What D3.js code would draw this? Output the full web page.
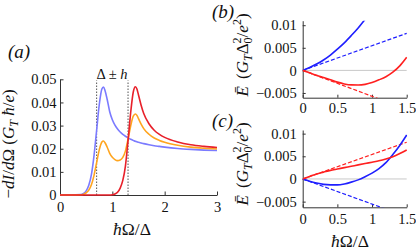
<!DOCTYPE html>
<html><head><meta charset="utf-8">
<script src="https://cdn.jsdelivr.net/npm/d3@7"></script>
<style>
body{margin:0;background:#fff}
</style></head><body>
<svg id="c" width="416" height="251"></svg>
<script>
// ---------- Panel (a) data ----------
const xA = [0,0.2,0.4,0.45,0.5,0.55,0.6,0.65,0.7,0.75,0.8,0.83,0.86,0.9,0.95,1.0,1.05,1.1,1.15,1.2,1.25,1.3,1.35,1.4,1.44,1.47,1.5,1.55,1.6,1.7,1.8,1.9,2.0,2.25,2.5,2.75,3.0];
const blueA = [0,0,0.0002,0.0007,0.0018,0.0042,0.0088,0.017,0.028,0.039,0.0458,0.0467,0.0452,0.0415,0.036,0.0325,0.0302,0.0285,0.0272,0.0262,0.0254,0.0247,0.0241,0.0236,0.0232,0.023,0.0228,0.0225,0.0222,0.0217,0.0213,0.021,0.0207,0.0201,0.0197,0.0194,0.0192];
const orangeA = [0,0,0.0001,0.00035,0.0009,0.0021,0.0044,0.0085,0.014,0.0195,0.0229,0.02335,0.0226,0.02075,0.018,0.0163,0.0153,0.01485,0.0151,0.01625,0.01895,0.0241,0.0298,0.03405,0.035,0.0344,0.033,0.03065,0.0287,0.02625,0.02465,0.0236,0.0228,0.0215,0.0207,0.0202,0.01985];
const redA = [0,0,0,0,0,0,0,0,0,0,0,0,0,0,0,0.0001,0.0004,0.0012,0.003,0.0063,0.0125,0.0235,0.0355,0.0445,0.0468,0.0458,0.0432,0.0388,0.0352,0.0308,0.028,0.0262,0.0249,0.0229,0.0217,0.021,0.0205];
const gapLines = [0.7, 1.3];
const xTicksA = [0,1,2,3];
const yTicksA = [0,0.01,0.02,0.03,0.04,0.05];

// ---------- Panel (b) data ----------
const xB = [0,0.1,0.2,0.3,0.4,0.5,0.6,0.7,0.8,0.9,1.0,1.1,1.2,1.3,1.4,1.5];
const blueB = [0,0.00063,0.0014,0.0023,0.0034,0.0047,0.0061,0.0077,0.0094,0.0113];
const redB = [0,-0.00055,-0.0011,-0.0016,-0.0021,-0.0026,-0.003,-0.00322,-0.00325,-0.0031,-0.0027,-0.0021,-0.0014,-0.0004,0.001,0.0029];
const xLin = [0,1.5];
const blueDashB = [0,0.0082];
const redDashB = [0,-0.0086];

// ---------- Panel (c) data ----------
const blueC = [0,-0.0005,-0.0009,-0.0012,-0.0013,-0.0013,-0.0011,-0.0007,-0.0002,0.0005,0.0013,0.0023,0.0036,0.0054,0.0074,0.0097];
const redC = [0,0.00055,0.0011,0.0015,0.0019,0.0022,0.0025,0.0028,0.0031,0.0034,0.0037,0.004,0.0044,0.0049,0.0056,0.0064];
const redDashC = [0,0.0081];
const blueDashC = [0,-0.0083];

const xTicksBC = [0,0.5,1,1.5];
const yTicksBC = [-0.005,0,0.005,0.01];

const FONT = '"Liberation Serif", "Times New Roman", "DejaVu Serif"';
const svg = d3.select("#c");
const fmt = v => v === 0 ? "0" : (v < 0 ? "\u2212" + String(-v) : String(v));
const axisCol = "#333";
const styleAxis = a => {
  a.select(".domain").attr("stroke",axisCol);
  a.selectAll("line").attr("stroke",axisCol);
  a.selectAll("text").attr("font-size",14.5).style("font-family",FONT).attr("fill","#111");
};
const txt = (x,y,size) => svg.append("text").attr("x",x).attr("y",y).attr("font-size",size).style("font-family",FONT).attr("fill","#111");

// ================= Panel (a) =================
const xa = d3.scaleLinear().domain([0,3]).range([60,217]);
const ya = d3.scaleLinear().domain([0,0.05]).range([195,79.3]);
const gA = svg.append("g");
gA.append("g").attr("transform","translate(0,195)")
  .call(d3.axisBottom(xa).tickValues(xTicksA).tickSize(-3.5).tickSizeOuter(0).tickFormat(fmt).tickPadding(6.5))
  .call(styleAxis);
gA.append("g").attr("transform","translate(60,0)")
  .call(d3.axisLeft(ya).tickValues(yTicksA).tickSize(-3.5).tickSizeOuter(0).tickFormat(fmt).tickPadding(3.5))
  .call(styleAxis);

gA.selectAll(".gap").data(gapLines).enter().append("line")
  .attr("x1",d=>xa(d)).attr("x2",d=>xa(d)).attr("y1",ya(0)).attr("y2",ya(0.0495))
  .attr("stroke","#555").attr("stroke-width",1).attr("stroke-dasharray","1.5,1.5");

const lineA = d3.line().x((d,i)=>xa(xA[i])).y(d=>ya(d)).curve(d3.curveMonotoneX);
[[blueA,"#7b7bff"],[orangeA,"#ffa51f"],[redA,"#e8202a"]].forEach(([s,c])=>{
  gA.append("path").attr("d",lineA(s)).attr("fill","none").attr("stroke",c).attr("stroke-width",1.6);
});

// labels (a)
txt(8,58,19).attr("font-style","italic").text("(a)");
const dl = txt(112,79,14.5).attr("text-anchor","middle");
dl.append("tspan").text("\u0394 \u00b1 ");
dl.append("tspan").attr("font-style","italic").text("h");
const xl = txt(132,235,17.5).attr("text-anchor","middle");
xl.append("tspan").attr("font-style","italic").text("\u0127");
xl.append("tspan").text("\u03a9/\u0394");
const yl = svg.append("text").attr("transform","translate(14,144) rotate(-90)").attr("text-anchor","middle")
  .attr("font-size",17).style("font-family",FONT).attr("fill","#111");
yl.append("tspan").text("\u2212");
yl.append("tspan").attr("font-style","italic").text("dI");
yl.append("tspan").text("/");
yl.append("tspan").attr("font-style","italic").text("d");
yl.append("tspan").text("\u03a9 (");
yl.append("tspan").attr("font-style","italic").text("G");
yl.append("tspan").attr("font-style","italic").attr("font-size",12).attr("dy",3.5).text("T");
yl.append("tspan").attr("font-style","italic").attr("dy",-3.5).text(" \u0127");
yl.append("tspan").text("/");
yl.append("tspan").attr("font-style","italic").text("e");
yl.append("tspan").text(")");

// ================= Panels (b), (c) =================
function smallPanel(id, top, bottom, yDom, series, letter, letterY, labelCY, padX, showXLabel){
  const x = d3.scaleLinear().domain([0,1.5]).range([302.7,406.7]);
  const y = d3.scaleLinear().domain(yDom).range([bottom, top]);
  const g = svg.append("g");
  const cid = "clip"+id;
  g.append("clipPath").attr("id",cid).append("rect").attr("x",302.7).attr("y",top).attr("width",104.5).attr("height",bottom-top);
  g.append("line").attr("x1",x(0)).attr("x2",x(1.5)).attr("y1",y(0)).attr("y2",y(0)).attr("stroke","#c8c8c8").attr("stroke-width",1);
  g.append("g").attr("transform",`translate(0,${bottom})`)
    .call(d3.axisBottom(x).tickValues(xTicksBC).tickSize(-3).tickSizeOuter(0).tickFormat(fmt).tickPadding(padX))
    .call(styleAxis);
  g.append("g").attr("transform","translate(302.7,0)")
    .call(d3.axisLeft(y).tickValues(yTicksBC).tickSize(-3).tickSizeOuter(0).tickFormat(fmt).tickPadding(6))
    .call(styleAxis);
  const pg = g.append("g").attr("clip-path",`url(#${cid})`);
  series.forEach(s=>{
    const ln = d3.line().x((d,i)=>x(s.x[i])).y(d=>y(d)).curve(d3.curveMonotoneX);
    pg.append("path").attr("d",ln(s.v)).attr("fill","none").attr("stroke",s.c)
      .attr("stroke-width",s.dash?1.2:1.6).attr("stroke-dasharray",s.dash?"4,2":null);
  });
  txt(212,letterY,19).attr("font-style","italic").text(letter);
  const t = svg.append("text").attr("transform",`translate(248,${labelCY}) rotate(-90)`).attr("text-anchor","middle")
    .attr("font-size",17).style("font-family",FONT).attr("fill","#111");
  t.append("tspan").attr("font-style","italic").text("\u0112");
  t.append("tspan").attr("dx",3).text(" (");
  t.append("tspan").attr("font-style","italic").text("G");
  t.append("tspan").attr("font-style","italic").attr("font-size",12).attr("dy",3.5).text("T");
  t.append("tspan").attr("dy",-3.5).text("\u0394");
  t.append("tspan").attr("font-size",12).attr("dy",-7).text("2");
  t.append("tspan").attr("font-size",12).attr("dx",-6).attr("dy",11).text("0");
  t.append("tspan").attr("dy",-4).text("/");
  t.append("tspan").attr("font-style","italic").text("e");
  t.append("tspan").attr("font-size",12).attr("dy",-7).text("2");
  t.append("tspan").attr("dy",7).text(")");
  if(showXLabel){
    const xl2 = txt(350,247,17.5).attr("text-anchor","middle");
    xl2.append("tspan").attr("font-style","italic").text("\u0127");
    xl2.append("tspan").text("\u03a9/\u0394");
  }
}
smallPanel("b", 20.7, 97.7, [-0.00605,0.011], [
  {x:xLin, v:blueDashB, c:"#1f1fff", dash:true},
  {x:xLin, v:redDashB, c:"#ff2020", dash:true},
  {x:xB, v:blueB, c:"#1f1fff"},
  {x:xB, v:redB, c:"#ff2020"}
], "(b)", 18, 55, 5.5, false);
smallPanel("cc", 130, 207.3, [-0.00625,0.0108], [
  {x:xLin, v:redDashC, c:"#ff2020", dash:true},
  {x:xLin, v:blueDashC, c:"#1f1fff", dash:true},
  {x:xB, v:blueC, c:"#1f1fff"},
  {x:xB, v:redC, c:"#ff2020"}
], "(c)", 127, 164, 6, true);
</script>
</body></html>
